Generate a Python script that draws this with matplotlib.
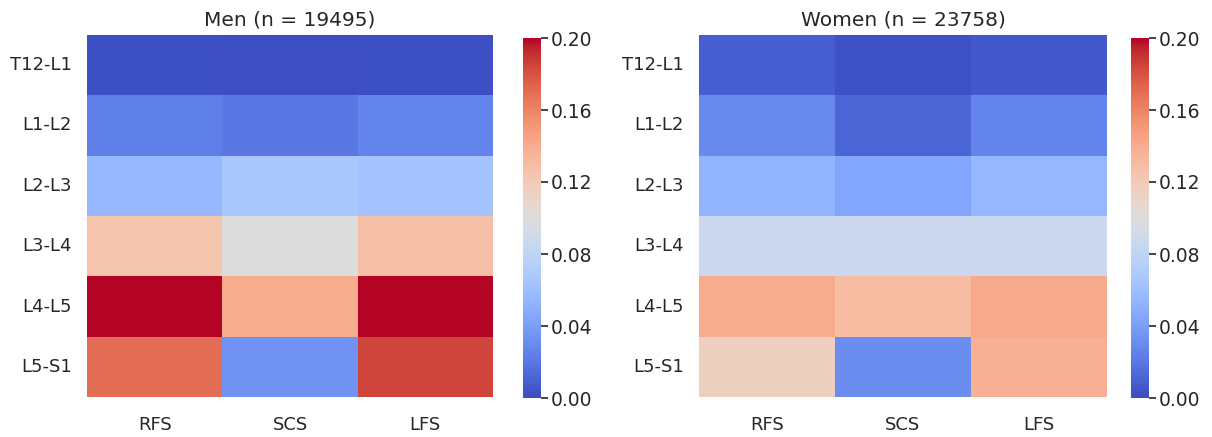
import numpy as np
import matplotlib
matplotlib.use("Agg")
import matplotlib.pyplot as plt
import seaborn as sns

levels = ["T12-L1", "L1-L2", "L2-L3", "L3-L4", "L4-L5", "L5-S1"]
sides = ["RFS", "SCS", "LFS"]

men = [
    [0.002, 0.001, 0.002],
    [0.024, 0.021, 0.026],
    [0.056, 0.066, 0.063],
    [0.125, 0.100, 0.128],
    [0.210, 0.140, 0.210],
    [0.170, 0.033, 0.185],
]
women = [
    [0.008, 0.003, 0.006],
    [0.029, 0.012, 0.026],
    [0.053, 0.044, 0.056],
    [0.087, 0.087, 0.087],
    [0.140, 0.130, 0.142],
    [0.115, 0.031, 0.138],
]
titles = ["Men (n = 19495)", "Women (n = 23758)"]
cbar_ticks = [0.00, 0.04, 0.08, 0.12, 0.16, 0.20]

sns.set_theme(style="white")
plt.rcParams['font.family'] = ['DejaVu Sans']

W, H = 1212, 437
fig = plt.figure(figsize=(W / 100, H / 100), dpi=100)

def box(x0, y0, x1, y1):
    return [x0 / W, 1 - y1 / H, (x1 - x0) / W, (y1 - y0) / H]

layouts = [
    (box(87, 35, 493, 397), box(523, 38, 541, 398)),
    (box(699, 35, 1107, 397), box(1131, 38, 1149, 398)),
]

for data, title, (axpos, cbpos) in zip([men, women], titles, layouts):
    ax = fig.add_axes(axpos)
    cax = fig.add_axes(cbpos)
    sns.heatmap(np.array(data), ax=ax, cbar_ax=cax, cmap="coolwarm",
                vmin=0, vmax=0.2, xticklabels=sides, yticklabels=levels,
                cbar_kws={"ticks": cbar_ticks})
    ax.set_title(title, fontsize=14.5, color="#262626", pad=7)
    ax.tick_params(axis="both", length=0, labelsize=13, colors="#262626")
    ax.tick_params(axis="y", rotation=0, pad=11)
    ax.tick_params(axis="x", pad=14)
    cax.set_yticklabels([f"{t:.2f}" for t in cbar_ticks])
    cax.tick_params(length=5, width=1.2, labelsize=13.5, colors="#262626", right=True, pad=2)
    for lab in cax.get_yticklabels():
        lab.set_color("#262626")

fig.savefig("out.png", dpi=100)
